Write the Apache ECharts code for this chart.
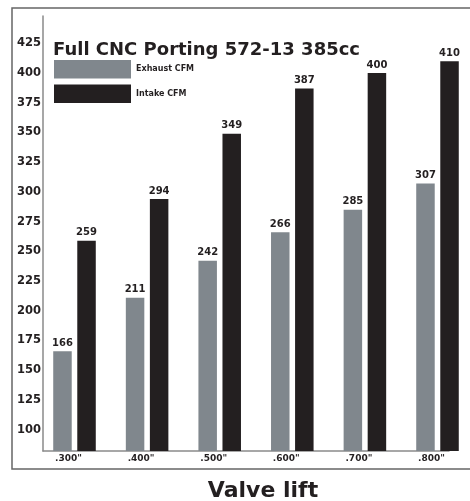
<!DOCTYPE html>
<html>
<head>
<meta charset="utf-8">
<script src="https://cdn.jsdelivr.net/npm/echarts@6/dist/echarts.min.js"></script>
<style>
html,body{margin:0;padding:0;background:#fff;overflow:hidden;}
#chart{width:470px;height:501px;}
</style>
</head>
<body>
<div id="chart"></div>
<script>
var categories = ['.300"', '.400"', '.500"', '.600"', '.700"', '.800"'];
var exhaustCFM = [166, 211, 242, 266, 285, 307];
var intakeCFM = [259, 294, 349, 387, 400, 410];
var titleText = 'Full CNC Porting 572-13 385cc';
var xAxisTitle = 'Valve lift';
var yMin = 82, yMax = 448;

var FONT = 'DejaVu Sans';
var chart = echarts.init(document.getElementById('chart'));
var option = {
  backgroundColor: '#fff',
  animation: false,
  graphic: [{
    type: 'polyline', silent: true, z: -1,
    shape: {points: [[490, 8], [12, 8], [12, 469], [490, 469]]},
    style: {fill: 'none', stroke: '#666', lineWidth: 1.5}
  }],
  title: {
    text: titleText, left: 48, top: 36,
    textStyle: {fontFamily: FONT, fontWeight: 'bold', fontSize: 18, color: '#231f20'}
  },
  legend: {
    orient: 'vertical', left: 49, top: 55,
    itemWidth: 77, itemHeight: 18.5, itemGap: 6,
    icon: 'rect',
    textStyle: {fontFamily: FONT, fontWeight: 'bold', fontSize: 8, color: '#231f20'},
    data: ['Exhaust CFM', 'Intake CFM']
  },
  grid: [
    {left: 43, width: 406, top: 16, bottom: 50, outerBoundsMode: 'none', containLabel: false},
    {left: 38.2, width: 435.6, top: 16, bottom: 50, outerBoundsMode: 'none', containLabel: false}
  ],
  xAxis: [
    {type: 'value', gridIndex: 0, min: 0, max: 1, show: true,
     axisLine: {show: true, onZero: false, lineStyle: {color: '#8a8a8a', width: 1.5}},
     axisTick: {show: false}, axisLabel: {show: false}, splitLine: {show: false},
     name: xAxisTitle, nameLocation: 'middle', nameGap: 29,
     nameTextStyle: {fontFamily: FONT, fontWeight: 'bold', fontSize: 22, color: '#231f20', padding: [0, 0, 0, 34]}
    },
    {type: 'category', gridIndex: 1, data: categories,
     axisLine: {show: false}, axisTick: {show: false},
     axisLabel: {fontFamily: FONT, fontWeight: 'bold', fontSize: 9, color: '#231f20', margin: 3, padding: [0, 12, 0, 0]}
    }
  ],
  yAxis: [
    {type: 'value', gridIndex: 0, min: yMin, max: yMax, interval: 1,
     axisLine: {show: true, lineStyle: {color: '#8a8a8a', width: 1.5}},
     axisTick: {show: false}, splitLine: {show: false},
     axisLabel: {fontFamily: FONT, fontWeight: 'bold', fontSize: 11.5, color: '#231f20', margin: 2,
       formatter: function (v) { return v % 25 === 0 ? String(v) : ''; }}
    },
    {type: 'value', gridIndex: 1, min: yMin, max: yMax, show: false}
  ],
  series: [
    {name: 'Exhaust CFM', type: 'bar', xAxisIndex: 1, yAxisIndex: 1, data: exhaustCFM,
     barWidth: 18.5, barGap: '30%',
     itemStyle: {color: '#80878d'},
     label: {show: true, position: 'top', distance: 3, fontFamily: FONT, fontWeight: 'bold', fontSize: 10, color: '#231f20'}
    },
    {name: 'Intake CFM', type: 'bar', xAxisIndex: 1, yAxisIndex: 1, data: intakeCFM,
     barWidth: 18.5, barGap: '30%',
     itemStyle: {color: '#231f20'},
     label: {show: true, position: 'top', distance: 3, fontFamily: FONT, fontWeight: 'bold', fontSize: 10, color: '#231f20'}
    }
  ]
};
chart.setOption(option);
</script>
</body>
</html>
